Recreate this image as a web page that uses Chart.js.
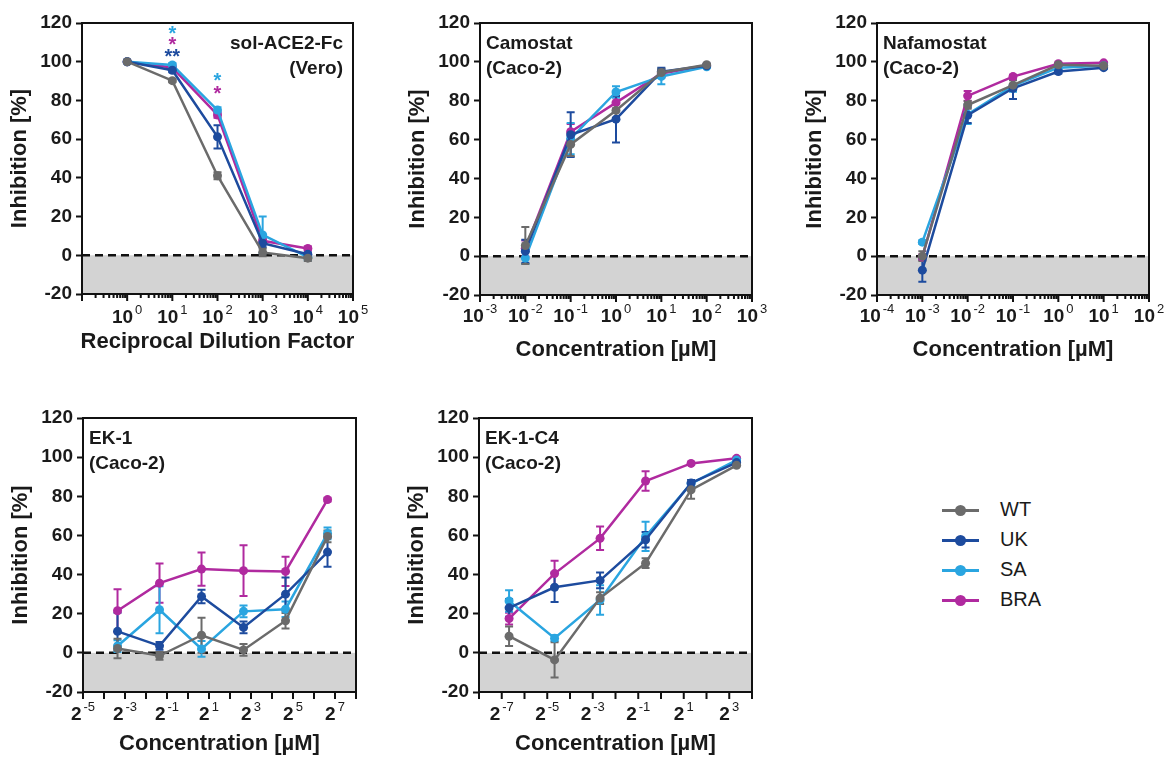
<!DOCTYPE html>
<html>
<head>
<meta charset="utf-8">
<script src="https://cdn.jsdelivr.net/npm/chart.js@4.4.1/dist/chart.umd.min.js"></script>
<style>
  html, body { margin: 0; padding: 0; background: #fff; }
  #fig { position: relative; width: 1168px; height: 762px; overflow: hidden; font-family: 'Liberation Sans', Arial, sans-serif; }
  #fig canvas { position: absolute; }
  .leg-row { position: absolute; left: 940px; height: 30px; width: 160px; }
  .leg-line { position: absolute; left: 2px; top: 14px; width: 37px; height: 2.5px; }
  .leg-dot { position: absolute; left: 15px; top: 10px; width: 11px; height: 11px; border-radius: 50%; }
  .leg-text { position: absolute; left: 60px; top: 3px; font-size: 20px; color: #1a1a1a; }
</style>
</head>
<body>
<div id="fig"></div>
<script>
// Serien (Varianten) und Farben
const series = ['WT', 'UK', 'SA', 'BRA'];
const colors = ['#6b6b6b', '#1d4b9e', '#2aa5e0', '#b02a9f'];

// sol-ACE2-Fc (Vero): reziproker Verdünnungsfaktor
const ace2X = [1, 10, 100, 1000, 10000];
const ace2WT = [100, 90.2, 41.1, 1.5, -1.5];
const ace2UK = [100, 95.6, 61.2, 6.2, 0.5];
const ace2SA = [100, 98.3, 75.0, 10.5, -1.0];
const ace2BRA = [100, 97.0, 72.5, 7.5, 3.5];
const ace2WTErr = [0.5, 0.8, 1.8, 2.0, 1.5];
const ace2UKErr = [0.5, 1.0, 6.0, 2.0, 1.0];
const ace2SAErr = [0.5, 1.0, 1.5, 9.5, 1.5];
const ace2BRAErr = [0.5, 1.0, 1.5, 1.5, 1.0];

// Camostat (Caco-2), µM
const camoX = [0.01, 0.1, 1, 10, 100];
const camoWT = [5.5, 57.5, 75.0, 94.5, 98.5];
const camoUK = [2.5, 62.5, 70.5, 95.0, 98.0];
const camoSA = [-1.0, 60.5, 84.5, 92.5, 97.5];
const camoBRA = [4.0, 64.0, 79.0, 94.0, 98.0];
const camoWTErr = [9.5, 6.0, 4.0, 2.0, 0.5];
const camoUKErr = [6.0, 11.5, 12.0, 2.0, 0.5];
const camoSAErr = [3.0, 8.0, 3.0, 4.0, 0.5];
const camoBRAErr = [4.0, 4.0, 3.0, 2.0, 0.5];

// Nafamostat (Caco-2), µM
const nafaX = [0.001, 0.01, 0.1, 1, 10];
const nafaWT = [0.0, 77.8, 88.0, 98.5, 98.0];
const nafaUK = [-7.2, 72.5, 86.4, 95.0, 97.0];
const nafaSA = [7.2, 73.0, 87.6, 97.0, 98.0];
const nafaBRA = [-0.5, 82.5, 92.4, 99.0, 99.5];
const nafaWTErr = [2.5, 2.0, 2.5, 0.5, 0.5];
const nafaUKErr = [6.0, 4.0, 5.5, 1.0, 0.5];
const nafaSAErr = [1.0, 5.0, 3.0, 1.0, 0.5];
const nafaBRAErr = [1.5, 2.5, 1.0, 0.5, 0.3];

// EK-1 (Caco-2), µM
const ek1X = [0.09765625, 0.390625, 1.5625, 6.25, 25, 100];
const ek1WT = [2.2, -1.5, 9.0, 1.5, 16.4, 59.5];
const ek1UK = [11.0, 3.6, 28.8, 13.0, 30.0, 51.5];
const ek1SA = [3.5, 22.0, 2.0, 21.2, 22.3, 61.0];
const ek1BRA = [21.5, 35.6, 42.8, 42.0, 41.6, 78.3];
const ek1WTErr = [5.0, 2.0, 9.0, 3.0, 4.0, 3.0];
const ek1UKErr = [9.5, 2.0, 3.5, 3.0, 8.5, 7.5];
const ek1SAErr = [3.0, 12.0, 4.0, 3.0, 4.0, 3.0];
const ek1BRAErr = [11.0, 10.0, 8.5, 13.0, 7.5, 1.0];

// EK-1-C4 (Caco-2), µM
const ekc4X = [0.009765625, 0.0390625, 0.15625, 0.625, 2.5, 10];
const ekc4WT = [8.5, -3.6, 28.0, 45.8, 83.3, 95.8];
const ekc4UK = [23.0, 33.5, 37.0, 57.8, 86.8, 97.2];
const ekc4SA = [26.5, 7.5, 27.0, 59.5, 86.5, 98.5];
const ekc4BRA = [17.5, 40.5, 58.5, 87.8, 96.8, 99.4];
const ekc4WTErr = [5.0, 9.0, 3.0, 2.5, 4.5, 0.5];
const ekc4UKErr = [4.5, 7.5, 4.0, 4.0, 1.5, 0.5];
const ekc4SAErr = [5.5, 1.5, 7.5, 7.5, 1.5, 0.5];
const ekc4BRAErr = [3.0, 6.5, 6.0, 5.0, 0.5, 0.5];

// Signifikanz-Sterne im ACE2-Panel: [x, y, Text, Serie]
const ace2Stars = [
  [10, 117, '*', 2], [10, 111, '*', 3], [10, 105, '**', 1],
  [100, 92.5, '*', 2], [100, 86, '*', 3]
];

// y-Achse überall gleich
const yTicks = [-20, 0, 20, 40, 60, 80, 100, 120];

Chart.defaults.font.family = "'Liberation Sans', Arial, sans-serif";
Chart.defaults.color = '#1a1a1a';

const FONT = "'Liberation Sans', Arial, sans-serif";
const fig = document.getElementById('fig');

function makePanel(p) {
  const canvas = document.createElement('canvas');
  canvas.width = p.w;
  canvas.height = p.h;
  canvas.style.left = p.left + 'px';
  canvas.style.top = p.top + 'px';
  fig.appendChild(canvas);

  const datasets = series.map((name, i) => ({
    label: name,
    data: p.x.map((x, j) => ({ x: x, y: p.y[i][j] })),
    errors: p.err[i],
    borderColor: colors[i],
    backgroundColor: colors[i],
    pointBorderColor: colors[i],
    borderWidth: 2.5,
    pointRadius: 4.5,
    pointBorderWidth: 0,
    pointHoverRadius: 4.5,
    tension: 0
  }));

  const decor = {
    id: 'decor',
    beforeDatasetsDraw(chart) {
      const ctx = chart.ctx, a = chart.chartArea;
      const xs = chart.scales.x, ys = chart.scales.y;
      const y0 = ys.getPixelForValue(0);
      ctx.save();
      // grauer Bereich unter 0 %
      ctx.fillStyle = '#d3d3d3';
      ctx.fillRect(a.left, y0, a.right - a.left, a.bottom - y0);
      ctx.strokeStyle = '#111';
      ctx.lineWidth = 2.5;
      ctx.setLineDash([8, 5]);
      ctx.beginPath();
      ctx.moveTo(a.left, y0);
      ctx.lineTo(a.right, y0);
      ctx.stroke();
      ctx.setLineDash([]);
      // Fehlerbalken (SEM)
      for (let i = chart.data.datasets.length - 1; i >= 0; i--) {
        const ds = chart.data.datasets[i];
        ctx.strokeStyle = ds.borderColor;
        ctx.lineWidth = 2;
        ds.data.forEach((pt, j) => {
          const e = ds.errors[j];
          if (!e) return;
          const px = xs.getPixelForValue(pt.x);
          const top = ys.getPixelForValue(pt.y + e);
          const bot = ys.getPixelForValue(pt.y - e);
          ctx.beginPath();
          ctx.moveTo(px, top); ctx.lineTo(px, bot);
          ctx.moveTo(px - 4, top); ctx.lineTo(px + 4, top);
          ctx.moveTo(px - 4, bot); ctx.lineTo(px + 4, bot);
          ctx.stroke();
        });
      }
      ctx.restore();
    },
    afterDraw(chart) {
      const ctx = chart.ctx, a = chart.chartArea;
      const xs = chart.scales.x, ys = chart.scales.y;
      ctx.save();
      ctx.strokeStyle = '#111';
      ctx.fillStyle = '#1a1a1a';
      ctx.lineWidth = 2;
      ctx.strokeRect(a.left, a.top, a.right - a.left, a.bottom - a.top);

      // x-Achse: Haupt- und Nebenstriche
      ctx.beginPath();
      for (let e = p.expMin; e <= p.expMax; e++) {
        const v = Math.pow(p.base, e);
        const px = xs.getPixelForValue(v);
        ctx.moveTo(px, a.bottom); ctx.lineTo(px, a.bottom + 7);
        if (p.minor && e < p.expMax) {
          for (let k = 2; k <= 9; k++) {
            const mx = xs.getPixelForValue(k * v);
            ctx.moveTo(mx, a.bottom); ctx.lineTo(mx, a.bottom + 4);
          }
        }
      }
      ctx.stroke();

      // Beschriftung mit Exponent
      ctx.textBaseline = 'middle';
      p.labels.forEach(e => {
        const px = xs.getPixelForValue(Math.pow(p.base, e));
        const baseTxt = String(p.base), expTxt = String(e);
        ctx.font = 'bold 19px ' + FONT;
        const wb = ctx.measureText(baseTxt).width;
        ctx.font = '13px ' + FONT;
        const we = ctx.measureText(expTxt).width;
        const x0 = px - (wb + 2 + we) / 2;
        const ly = a.bottom + p.labelDy;
        ctx.textAlign = 'left';
        ctx.font = 'bold 19px ' + FONT;
        ctx.fillText(baseTxt, x0, ly);
        ctx.font = '13px ' + FONT;
        ctx.fillText(expTxt, x0 + wb + 2, ly - 8);
      });

      // Achsentitel
      ctx.font = 'bold 22px ' + FONT;
      ctx.textAlign = 'center';
      ctx.fillText(p.xTitle, (a.left + a.right) / 2, a.bottom + p.titleDy);
      ctx.save();
      ctx.translate(a.left - 62, (a.top + a.bottom) / 2);
      ctx.rotate(-Math.PI / 2);
      ctx.fillText('Inhibition [%]', 0, 0);
      ctx.restore();

      // Panel-Titel
      ctx.font = 'bold 19px ' + FONT;
      ctx.textBaseline = 'alphabetic';
      ctx.textAlign = p.titleRight ? 'right' : 'left';
      const tx = p.titleRight ? a.right - 10 : a.left + 6;
      p.title.forEach((line, i) => ctx.fillText(line, tx, a.top + 26 + i * 25));

      // Sterne
      (p.stars || []).forEach(s => {
        ctx.font = 'bold 20px ' + FONT;
        ctx.textAlign = 'center';
        ctx.fillStyle = colors[s[3]];
        ctx.fillText(s[2], xs.getPixelForValue(s[0]), ys.getPixelForValue(s[1]) + 11);
      });
      ctx.restore();
    }
  };

  return new Chart(canvas, {
    type: 'line',
    data: { datasets: datasets },
    options: {
      responsive: false,
      animation: false,
      devicePixelRatio: 1,
      layout: { padding: { left: 0, top: p.area[1], right: p.w - p.area[2], bottom: 0 } },
      plugins: { legend: { display: false }, tooltip: { enabled: false } },
      scales: {
        x: {
          type: 'logarithmic',
          min: Math.pow(p.base, p.expMin),
          max: Math.pow(p.base, p.expMax),
          ticks: { display: false },
          grid: { display: false },
          border: { display: false },
          afterFit(s) { s.height = p.h - p.area[3]; }
        },
        y: {
          min: -20,
          max: 120,
          afterBuildTicks(s) { s.ticks = yTicks.map(v => ({ value: v })); },
          ticks: { font: { size: 19, weight: 'bold' }, color: '#1a1a1a', padding: 4 },
          grid: { drawOnChartArea: false, drawTicks: true, tickLength: 6, tickWidth: 2, tickColor: '#111' },
          border: { display: false },
          afterFit(s) { s.width = p.area[0]; }
        }
      }
    },
    plugins: [decor]
  });
}

makePanel({
  left: 0, top: 0, w: 375, h: 375, area: [82, 23, 353, 294],
  x: ace2X, y: [ace2WT, ace2UK, ace2SA, ace2BRA],
  err: [ace2WTErr, ace2UKErr, ace2SAErr, ace2BRAErr],
  base: 10, expMin: -1, expMax: 5, minor: true, labels: [0, 1, 2, 3, 4, 5],
  labelDy: 24, titleDy: 48, xTitle: 'Reciprocal Dilution Factor',
  title: ['sol-ACE2-Fc', '(Vero)'], titleRight: true, stars: ace2Stars
});

makePanel({
  left: 390, top: 0, w: 380, h: 375, area: [90, 23, 362, 295],
  x: camoX, y: [camoWT, camoUK, camoSA, camoBRA],
  err: [camoWTErr, camoUKErr, camoSAErr, camoBRAErr],
  base: 10, expMin: -3, expMax: 3, minor: true, labels: [-3, -2, -1, 0, 1, 2, 3],
  labelDy: 22, titleDy: 55, xTitle: 'Concentration [µM]',
  title: ['Camostat', '(Caco-2)']
});

makePanel({
  left: 780, top: 0, w: 388, h: 375, area: [97, 23, 369, 295],
  x: nafaX, y: [nafaWT, nafaUK, nafaSA, nafaBRA],
  err: [nafaWTErr, nafaUKErr, nafaSAErr, nafaBRAErr],
  base: 10, expMin: -4, expMax: 2, minor: true, labels: [-4, -3, -2, -1, 0, 1, 2],
  labelDy: 22, titleDy: 55, xTitle: 'Concentration [µM]',
  title: ['Nafamostat', '(Caco-2)']
});

makePanel({
  left: 0, top: 390, w: 380, h: 372, area: [83, 28, 356, 302],
  x: ek1X, y: [ek1WT, ek1UK, ek1SA, ek1BRA],
  err: [ek1WTErr, ek1UKErr, ek1SAErr, ek1BRAErr],
  base: 2, expMin: -5, expMax: 8, minor: false, labels: [-5, -3, -1, 1, 3, 5, 7],
  labelDy: 23, titleDy: 52, xTitle: 'Concentration [µM]',
  title: ['EK-1', '(Caco-2)']
});

makePanel({
  left: 390, top: 390, w: 380, h: 372, area: [89, 28, 362, 302],
  x: ekc4X, y: [ekc4WT, ekc4UK, ekc4SA, ekc4BRA],
  err: [ekc4WTErr, ekc4UKErr, ekc4SAErr, ekc4BRAErr],
  base: 2, expMin: -8, expMax: 4, minor: false, labels: [-7, -5, -3, -1, 1, 3],
  labelDy: 23, titleDy: 52, xTitle: 'Concentration [µM]',
  title: ['EK-1-C4', '(Caco-2)']
});

// Legende
series.forEach((name, i) => {
  const row = document.createElement('div');
  row.className = 'leg-row';
  row.style.top = (495 + i * 30) + 'px';
  row.innerHTML = '<div class="leg-line" style="background:' + colors[i] + '"></div>' +
    '<div class="leg-dot" style="background:' + colors[i] + '"></div>' +
    '<div class="leg-text">' + name + '</div>';
  fig.appendChild(row);
});
</script>
</body>
</html>
